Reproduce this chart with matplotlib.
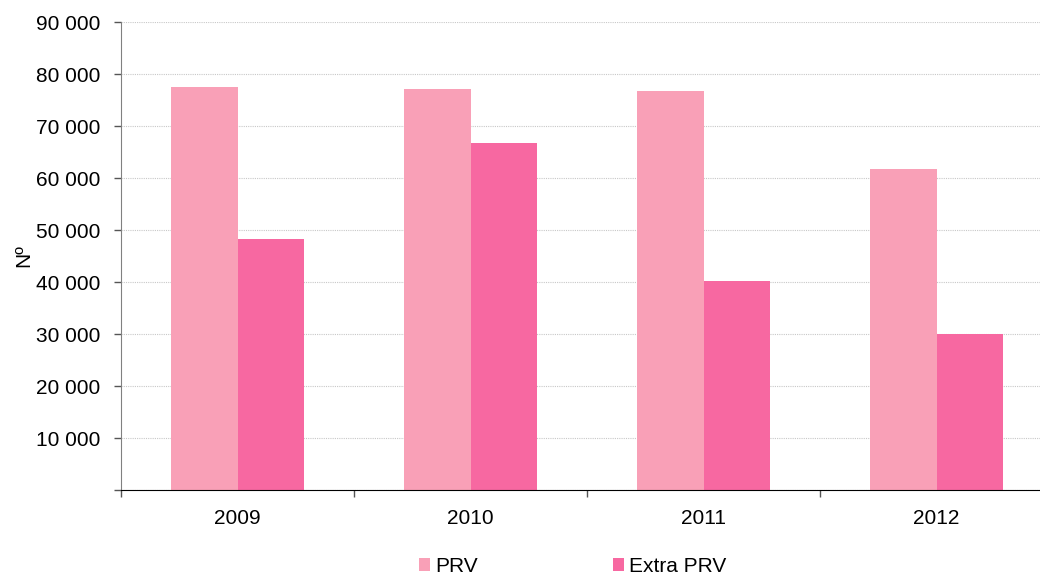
import matplotlib.pyplot as plt
import numpy as np
from matplotlib.ticker import FuncFormatter

plt.rcParams['font.family'] = ['Liberation Sans', 'DejaVu Sans']

years = ['2009', '2010', '2011', '2012']
prv = [77500, 77100, 76750, 61650]
extra_prv = [48250, 66700, 40200, 29950]

PRV_COLOR = '#F9A0B7'
EXTRA_COLOR = '#F768A1'
BAR_W = 0.286
FS = 15

fig = plt.figure(figsize=(10.4, 5.77), dpi=100)
ax = fig.add_axes([121 / 1040, 1 - 490 / 577, 932 / 1040, 468 / 577])

x = np.arange(len(years))
ax.bar(x - BAR_W / 2, prv, BAR_W, color=PRV_COLOR, label='PRV', zorder=2)
ax.bar(x + BAR_W / 2, extra_prv, BAR_W, color=EXTRA_COLOR, label='Extra PRV', zorder=2)

ax.set_xlim(-0.5, len(years) - 0.5)
ax.set_ylim(0, 90000)
ax.set_yticks(range(0, 90001, 10000))
ax.yaxis.set_major_formatter(FuncFormatter(
    lambda v, p: '' if v == 0 else f'{int(v):,}'.replace(',', ' ')))
ax.set_xticks(x)
ax.set_xticklabels(years)
# category boundary ticks on the x axis
ax.set_xticks(np.arange(-0.5, len(years)), minor=True)
ax.tick_params(axis='x', which='major', length=0, labelsize=FS, pad=14)
ax.tick_params(axis='x', which='minor', length=5, width=1, color='#555555')
ax.tick_params(axis='y', length=5, width=1, color='#555555', labelsize=FS, pad=10)

ax.grid(axis='y', color='#c8c8c8', linestyle=(0, (1, 1)), linewidth=0.8, zorder=0)
ax.set_ylabel('Nº', fontsize=FS, labelpad=2)

for s in ('top', 'right'):
    ax.spines[s].set_visible(False)
ax.spines['left'].set_color('#808080')
ax.spines['bottom'].set_color('#000000')

fig.legend(loc='lower left', bbox_to_anchor=(419 / 1040, 0.002), ncol=2, frameon=False,
           fontsize=FS, handlelength=0.55, handleheight=0.55, handletextpad=0.25,
           columnspacing=6.45, borderpad=0, borderaxespad=0)

fig.savefig('out.png', dpi=100)
